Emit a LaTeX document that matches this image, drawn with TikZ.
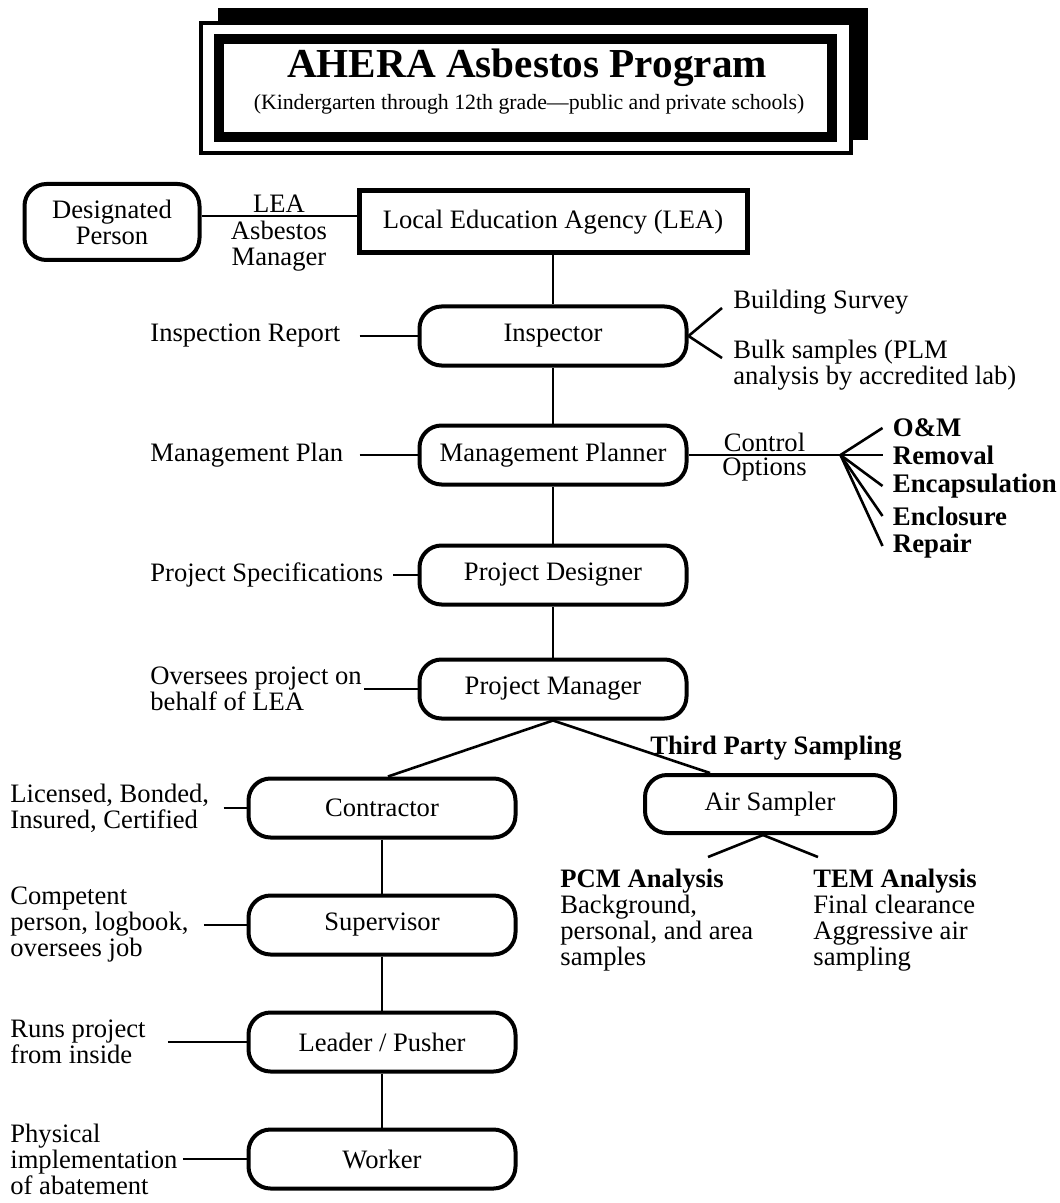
\documentclass[tikz,border=0pt]{standalone}
\usepackage{fontspec}
\setmainfont{Liberation Serif}
\usepackage{tikz}
\usetikzlibrary{positioning}
\usetikzlibrary{calc}

\begin{document}
\begin{tikzpicture}[x=0.5pt, y=-0.5pt,
        		every node/.style={font=\fontsize{13.3}{13}\selectfont},
        		role/.style={draw, line width=2pt, rounded corners=11pt, align=center, inner sep=2pt, minimum width=133.5pt, minimum height=29.5pt},
        		note/.style={anchor=west, align=left, inner sep=0pt},
        		opt/.style={anchor=west, inner sep=0pt, font=\fontsize{13.4}{13}\selectfont\bfseries},
        		link/.style={line width=1.3pt}]
        		\useasboundingbox (0,0) rectangle (1059,1203);
        		
        		\fill (218,8) rectangle (868,140);
        		\draw[line width=2pt, fill=white] (201,23) rectangle (851,153);
        		\draw[line width=5pt] (219,39) rectangle (832,137);
        		\node[font=\fontsize{20.6}{22}\selectfont\bfseries](title) at (527,68) {AHERA Asbestos Program};
        		\node[font=\fontsize{10.9}{12}\selectfont](subtitle) at (529,104) {(Kindergarten through 12th grade---public and private schools)};
        		
        		\node[role, minimum width=87.5pt, minimum height=38pt](dp) at (112,222) {Designated\\Person};
        		\node[draw, line width=2.5pt, minimum width=194pt, minimum height=31pt](lea) at (553,222) {Local Education Agency (LEA)};
        		\draw[link] ([yshift=3pt]dp.east) -- node[above, inner sep=1pt] {LEA} node[below, align=center, inner sep=2pt] {Asbestos\\Manager} ([yshift=3pt]lea.west);
        		
        		\node[role, below=24.5pt of lea](insp) {Inspector};
        		\node[role, below=28pt of insp](mgmt) {Management Planner};
        		\node[role, below=28.5pt of mgmt](design) {Project Designer};
        		\node[role, below=25.5pt of design](pm) {Project Manager};
        		\draw[link] (lea) -- (insp);
        		\draw[link] (insp) -- (mgmt);
        		\draw[link] (mgmt) -- (design);
        		\draw[link] (design) -- (pm);
        		
        		\coordinate (leftcol) at (150,0);
        		\node[note](report) at (leftcol |- insp) {Inspection Report};
        		\node[note](plan) at (leftcol |- mgmt) {Management Plan};
        		\node[note](specs) at (leftcol |- design) {Project Specifications};
        		\node[note](behalf) at (leftcol |- pm) {Oversees project on\\behalf of LEA};
        		\draw[link] ([xshift=9.5pt]report.east) -- (insp.west);
        		\draw[link] ([xshift=8pt]plan.east) -- (mgmt.west);
        		\draw[link] ([xshift=5pt]specs.east) -- (design.west);
        		\draw[link] ([xshift=1pt]behalf.east) -- (pm.west);
        		
        		\node[note](survey) at (733,302) {Building Survey};
        		\node[note](bulk) at (733,365) {Bulk samples (PLM\\analysis by accredited lab)};
        		\coordinate (surveytip) at (722,308);
        		\coordinate (bulktip) at (722,358);
        		\draw[link] (insp.east) -- (surveytip);
        		\draw[link] (insp.east) -- (bulktip);
        		
        		\coordinate (fan) at ([xshift=76pt]mgmt.east);
        		\draw[link] (mgmt.east) -- node[above, inner sep=1pt] {Control} node[below, inner sep=1pt] {Options} (fan);
        		\foreach \nm/\txt/\dy in {optom/O\&M/-27, optrem/Removal/0, optencap/Encapsulation/31, optencl/Enclosure/61, optrep/Repair/91}
        		{
        			\node[opt](\nm) at ($(fan)+(52,\dy)$) {\txt};
        			\draw[link] (fan) -- ([xshift=-5pt]\nm.west);
        		}
        		
        		\node[role](con) at (382,808) {Contractor};
        		\node[role, below=27pt of con](sup) {Supervisor};
        		\node[role, below=27pt of sup](lead) {Leader / Pusher};
        		\node[role, below=27pt of lead](worker) {Worker};
        		\node[role, minimum width=125pt, minimum height=29pt](air) at (770,804) {Air Sampler};
        		\node[font=\fontsize{13.3}{13}\selectfont\bfseries](third) at (776,748) {Third Party Sampling};
        		\draw[link] (pm.south) -- ([xshift=3pt]con.north);
        		\draw[link] (pm.south) -- ([xshift=-30pt]air.north);
        		\draw[link] (con) -- (sup);
        		\draw[link] (sup) -- (lead);
        		\draw[link] (lead) -- (worker);
        		
        		\coordinate (farleft) at (10,0);
        		\node[note](licensed) at (farleft |- con) {Licensed, Bonded,\\Insured, Certified};
        		\node[note](competent) at (farleft |- sup) {Competent\\person, logbook,\\oversees job};
        		\node[note](runs) at (farleft |- lead) {Runs project\\from inside};
        		\node[note](physical) at (farleft |- worker) {Physical\\implementation\\of abatement};
        		\draw[link] ([xshift=7pt]licensed.east) -- (con.west);
        		\draw[link] ([xshift=7.5pt]competent.east) -- (sup.west);
        		\draw[link] ([xshift=11pt]runs.east) -- (lead.west);
        		\draw[link] ([xshift=2.5pt]physical.east) -- (worker.west);
        		
        		\node[note, anchor=north west](pcm) at (560,869) {\textbf{PCM Analysis}\\Background,\\personal, and area\\samples};
        		\node[note, anchor=north west](tem) at (813,869) {\textbf{TEM Analysis}\\Final clearance\\Aggressive air\\sampling};
        		\coordinate (pcmtip) at (708,857);
        		\coordinate (temtip) at (818,857);
        		\draw[link] ([xshift=-3.5pt]air.south) -- (pcmtip);
        		\draw[link] ([xshift=-3.5pt]air.south) -- (temtip);
        	\end{tikzpicture}
\end{document}
